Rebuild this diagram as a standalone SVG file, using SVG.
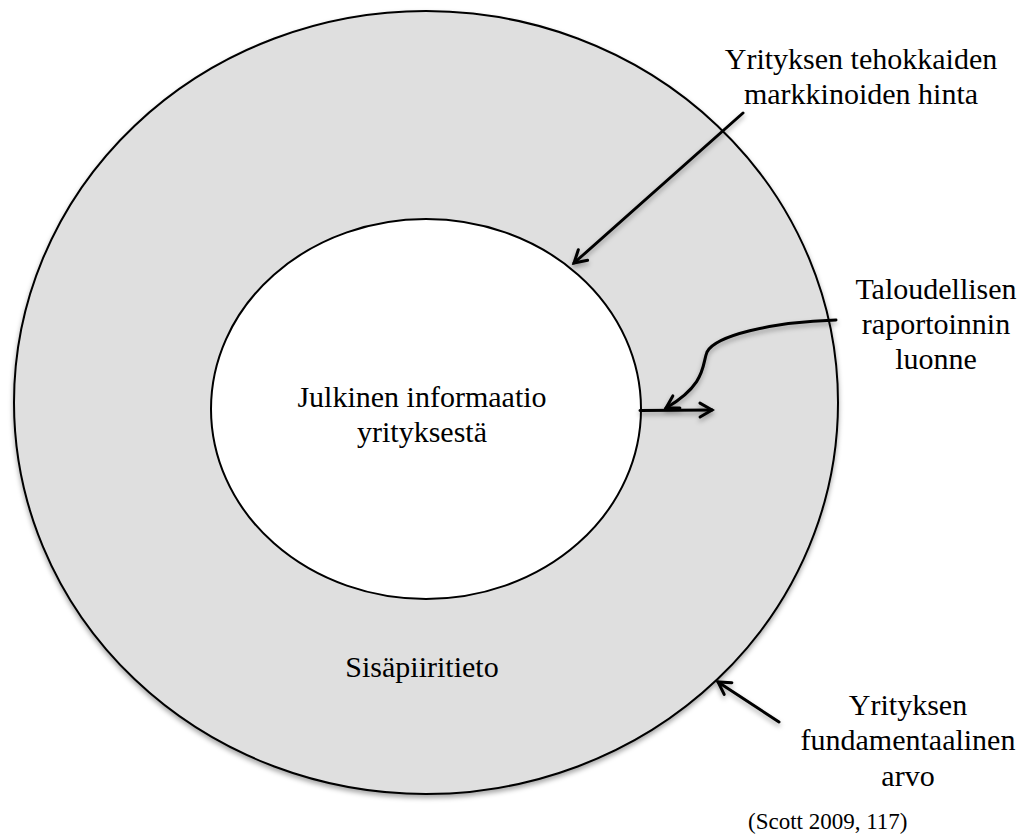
<svg xmlns="http://www.w3.org/2000/svg" width="1027" height="839" viewBox="0 0 1027 839">
  <defs>
    <style>
      .lbl { font-family: "Liberation Serif", "Times New Roman", serif; font-size: 30px; fill: #000; text-anchor: middle; }
      .cite { font-family: "Liberation Serif", "Times New Roman", serif; font-size: 23px; fill: #000; }
      .conn { fill: none; stroke: #000; stroke-width: 3; stroke-linecap: round; }
    </style>
    <filter id="sh" x="-10%" y="-10%" width="120%" height="120%">
      <feDropShadow dx="0" dy="3" stdDeviation="2.5" flood-color="#000" flood-opacity="0.35"/>
    </filter>
    <marker id="arr" markerUnits="userSpaceOnUse" markerWidth="30" markerHeight="30" viewBox="-15 -15 30 30" refX="0" refY="0" orient="auto">
      <path d="M-12,-7 L0,0 L-12,7" fill="none" stroke="#000" stroke-width="3" stroke-linecap="round" stroke-linejoin="miter"/>
    </marker>
  </defs>
  <rect width="1027" height="839" fill="#fff"/>
  <g id="outer">
    <ellipse cx="426" cy="402.5" rx="412" ry="391.5" fill="#dfdfdf" stroke="#000" stroke-width="2" filter="url(#sh)"/>
    <text class="lbl" x="422" y="677">Sisäpiiritieto</text>
  </g>
  <g id="inner">
    <ellipse cx="426" cy="409" rx="215" ry="190" fill="#fff" stroke="#000" stroke-width="2"/>
    <text class="lbl" x="422" y="407">Julkinen informaatio</text>
    <text class="lbl" x="422" y="442">yrityksestä</text>
  </g>
  <g id="connectors" filter="url(#sh)">
    <line class="conn" x1="743" y1="113" x2="574" y2="263" marker-end="url(#arr)"/>
    <line class="conn" x1="640" y1="410.5" x2="712" y2="410" marker-end="url(#arr)"/>
    <path class="conn" d="M836,320 C770,322 715,336 707,352 C702,364 707,384 666,408" marker-end="url(#arr)"/>
    <line class="conn" x1="779" y1="722" x2="718" y2="682" marker-end="url(#arr)"/>
  </g>
  <g id="label-price">
    <text class="lbl" x="861" y="69">Yrityksen tehokkaiden</text>
    <text class="lbl" x="861" y="104">markkinoiden hinta</text>
  </g>
  <g id="label-reporting">
    <text class="lbl" x="936" y="299">Taloudellisen</text>
    <text class="lbl" x="936" y="334">raportoinnin</text>
    <text class="lbl" x="936" y="369">luonne</text>
  </g>
  <g id="label-fundamental">
    <text class="lbl" x="908" y="715">Yrityksen</text>
    <text class="lbl" x="908" y="750">fundamentaalinen</text>
    <text class="lbl" x="908" y="786">arvo</text>
  </g>
  <g id="citation">
    <text class="cite" x="748" y="829">(Scott 2009, 117)</text>
  </g>
</svg>
